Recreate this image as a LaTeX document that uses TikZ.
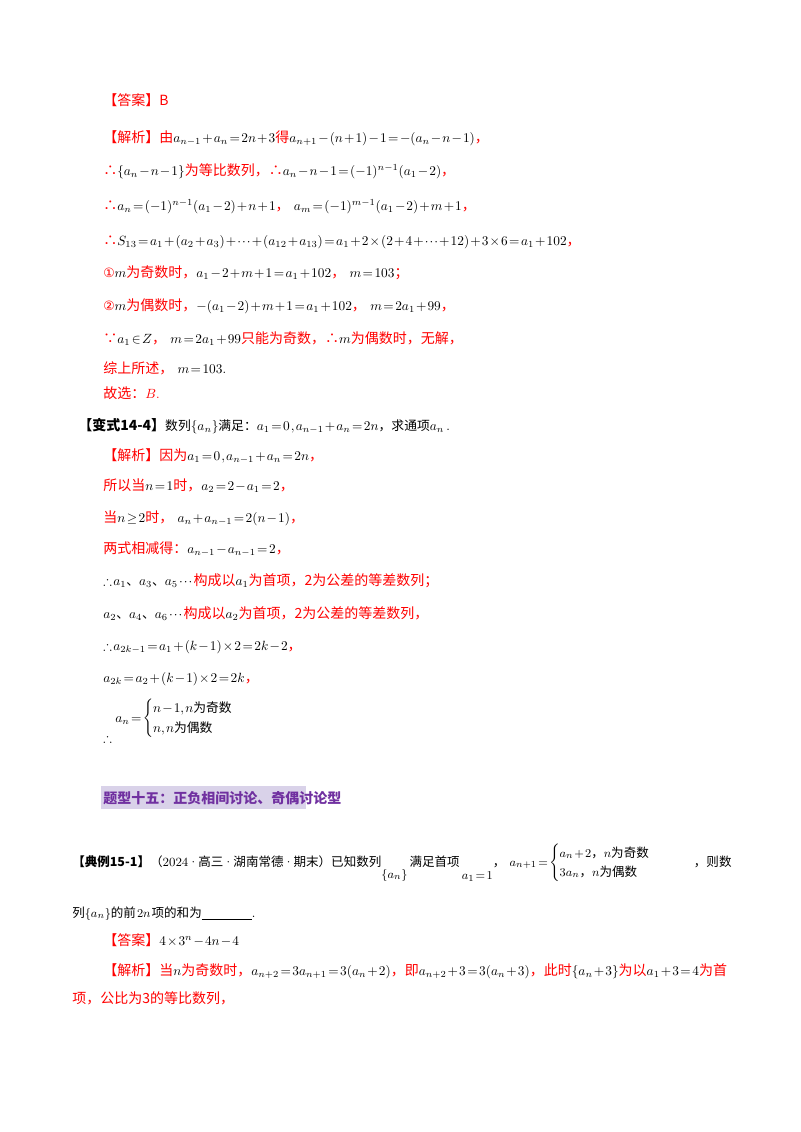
\documentclass[tikz,border=0pt]{standalone}
\usepackage{amsmath,amssymb}
\usepackage{fontspec}
\newfontfamily\cjk{Noto Sans CJK SC}
\newfontfamily\sym{DejaVu Sans}
\definecolor{rd}{HTML}{FF0000}
\definecolor{pur}{HTML}{7030A0}
\definecolor{lav}{HTML}{D9D2E9}
\newcommand{\R}[1]{{\color{rd}\cjk\fontsize{10.5}{12}\selectfont #1}}
\newcommand{\K}[1]{{\cjk #1}}
\newcommand{\T}[1]{\text{\cjk #1}}
\newcommand{\tight}{\thinmuskip=1.5mu\medmuskip=1.5mu\thickmuskip=2mu\nulldelimiterspace=0pt}
\begin{document}
\begin{tikzpicture}[x=0.75pt,y=-0.75pt,
  ln/.style={anchor=base west,inner sep=0pt,font=\fontsize{9.6}{12}\selectfont\tight},
  sm/.style={anchor=base west,inner sep=0pt,font=\fontsize{9.4}{12}\selectfont\tight}]
\useasboundingbox (0,0) rectangle (800,1132);
\fill[white] (0,0) rectangle (800,1132);
\node[ln] (l1) at (103,105) {\R{【答案】B}};
\node[ln] (l2) at (103,142) {\R{【解析】由}$a_{n-1}+a_n=2n+3$\R{得}$a_{n+1}-(n+1)-1=-(a_n-n-1)$\R{，}};
\node[ln] (l3) at (103,175) {\R{∴}$\{a_n-n-1\}$\R{为等比数列，∴}$a_n-n-1=(-1)^{n-1}(a_1-2)$\R{，}};
\node[ln] (l4) at (103,210) {\R{∴}$a_n=(-1)^{n-1}(a_1-2)+n+1$\R{，}\ $a_m=(-1)^{m-1}(a_1-2)+m+1$\R{，}};
\node[ln] (l5) at (103,245) {\R{∴}$S_{13}=a_1+(a_2+a_3)+\cdots+(a_{12}+a_{13})=a_1+2\times(2+4+\cdots+12)+3\times6=a_1+102$\R{，}};
\node[ln] (l6) at (103,277) {{\color{rd}\sym ①}$m$\R{为奇数时，}$a_1-2+m+1=a_1+102$\R{，}\ $m=103$\R{；}};
\node[ln] (l7) at (103,310) {{\color{rd}\sym ②}$m$\R{为偶数时，}$-(a_1-2)+m+1=a_1+102$\R{，}\ $m=2a_1+99$\R{，}};
\node[ln] (l8) at (103,343) {\R{∵}$a_1\in Z$\R{，}\ $m=2a_1+99$\R{只能为奇数，∴}$m$\R{为偶数时，无解，}};
\node[ln] (l9) at (103,373) {\R{综上所述，}\ $m=103$.};
\node[ln] (l10) at (103,398) {\R{故选：}{\color{rd}$B$.}};
\node[ln] (l11) at (78,430) {{\cjk\bfseries\fontsize{10.5}{12}\selectfont 【变式14-4】}\K{数列}$\{a_n\}$\K{满足：}$a_1=0\,,a_{n-1}+a_n=2n$\K{，求通项}$a_n$\,.};
\node[ln] (l12) at (103,460) {\R{【解析】因为}$a_1=0\,,a_{n-1}+a_n=2n$\R{，}};
\node[ln] (l13) at (103,490) {\R{所以当}$n=1$\R{时，}$a_2=2-a_1=2$\R{，}};
\node[ln] (l14) at (103,522) {\R{当}$n\geq2$\R{时，}\ $a_n+a_{n-1}=2(n-1)$\R{，}};
\node[ln] (l15) at (103,553) {\R{两式相减得：}$a_{n-1}-a_{n-1}=2$\R{，}};
\node[ln] (l16) at (103,585) {$\therefore a_1$\K{、}$a_3$\K{、}$a_5\cdots$\R{构成以}$a_1$\R{为首项，2为公差的等差数列；}};
\node[ln] (l17) at (103,618) {$a_2$\K{、}$a_4$\K{、}$a_6\cdots$\R{构成以}$a_2$\R{为首项，2为公差的等差数列，}};
\node[ln] (l18) at (103,650) {$\therefore a_{2k-1}=a_1+(k-1)\times2=2k-2$\R{，}};
\node[ln] (l19) at (103,682) {$a_{2k}=a_2+(k-1)\times2=2k$\R{，}};
\node[ln] (l20) at (103,742) {$\therefore$};
\node[ln] (l21) at (115,722) {$a_n=\begin{cases}n-1,n\T{为奇数}\\ n,n\T{为偶数}\end{cases}$};
\fill[lav] (101,786) rectangle (306,809);
\node[ln] (h) at (103,803) {{\color{pur}\cjk\bfseries\fontsize{10.5}{12}\selectfont 题型十五：正负相间讨论、奇偶讨论型}};
\node[sm] (l22) at (72,866) {{\cjk\bfseries 【典例15-1】}\K{（}2024\textperiodcentered\K{高三}\textperiodcentered\K{湖南常德}\textperiodcentered\K{期末）已知数列}\raisebox{-9pt}{$\{a_n\}$}\,\K{满足首项}\,\raisebox{-10pt}{$a_1=1$}\K{，}\ $a_{n+1}=\begin{cases}a_n+2\text{\cjk ，}n\T{为奇数}\\ 3a_n\text{\cjk ，}n\T{为偶数}\end{cases}$\hspace{2.6em}\K{，则数}};
\node[sm] (l25) at (72,917) {\K{列}$\{a_n\}$\K{的前}$\,2n\,$\K{项的和为}\underline{\hspace{4em}}.};
\node[ln] (l26) at (103,945) {\R{【答案】}$4\times3^n-4n-4$};
\node[ln] (l27) at (103,975) {\R{【解析】当}$n$\R{为奇数时，}$a_{n+2}=3a_{n+1}=3(a_n+2)$\R{，即}$a_{n+2}+3=3(a_n+3)$\R{，此时}$\{a_n+3\}$\R{为以}$a_1+3=4$\R{为首}};
\node[ln] (l28) at (72,1003) {\R{项，公比为3的等比数列，}};
\end{tikzpicture}
\end{document}
